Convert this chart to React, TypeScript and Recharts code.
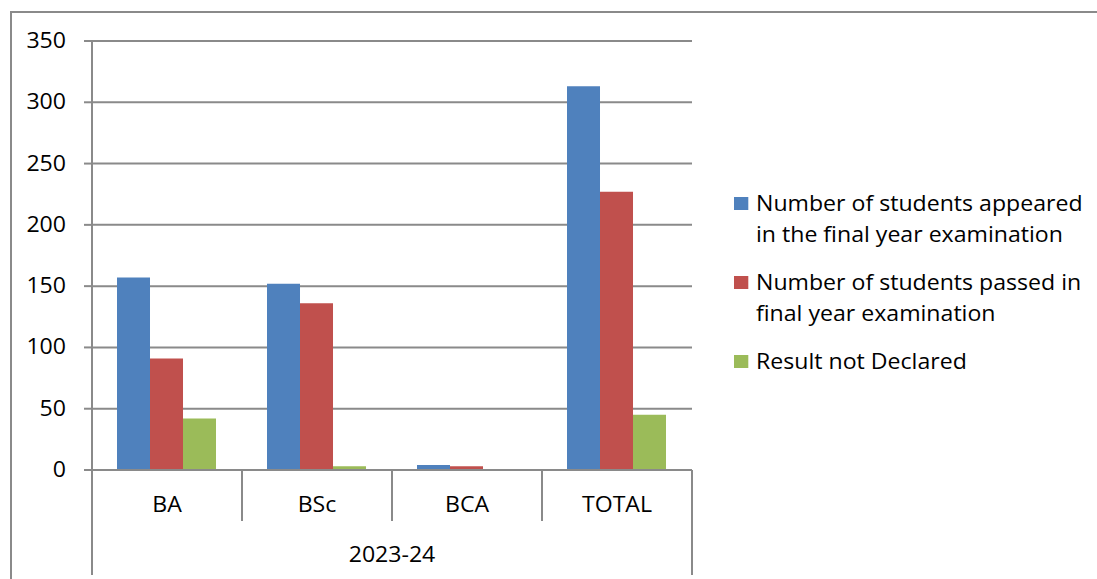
import { BarChart, Bar, XAxis, YAxis, CartesianGrid, Legend } from 'recharts';

const categories = ['BA', 'BSc', 'BCA', 'TOTAL'];
const appeared = [157, 152, 4, 313];
const passed = [91, 136, 3, 227];
const notDeclared = [42, 3, 0, 45];
const yearLabel = '2023-24';
const yTicks = [0, 50, 100, 150, 200, 250, 300, 350];

// legend labels, split the way the source wraps them
const legendLines = [
  ['Number of students appeared', 'in the final year examination'],
  ['Number of students passed in', 'final year examination'],
  ['Result not Declared'],
];
const seriesNames = legendLines.map((l) => l.join(' '));
const COLORS = ['#4F81BD', '#C0504D', '#9BBB59'];

const data = categories.map((category, i) => ({
  category,
  year: yearLabel,
  appeared: appeared[i],
  passed: passed[i],
  notDeclared: notDeclared[i],
}));

const FONT = '"Open Sans", Lato, sans-serif';
const GRID = '#8a8a8a';
// the source picture is stretched a little sideways
const STRETCH = 1.1;

const Label = ({ x, y, anchor, children }: any) => (
  <text
    transform={`translate(${x},${y}) scale(${STRETCH},1)`}
    textAnchor={anchor}
    fontSize={21}
    fontFamily={FONT}
    fill="#000"
  >
    {children}
  </text>
);

const CategoryTick = (props: any) => {
  const { x, y, payload, index, visibleTicksCount } = props;
  const half = payload.offset;
  return (
    <g>
      <line x1={x - half} y1={y} x2={x - half} y2={y + 51} stroke={GRID} strokeWidth={2} />
      {index === visibleTicksCount - 1 && (
        <line x1={x + half} y1={y} x2={x + half} y2={y + 51} stroke={GRID} strokeWidth={2} />
      )}
      <Label x={x} y={y + 42} anchor="middle">{payload.value}</Label>
    </g>
  );
};

const YearTick = (props: any) => {
  const { x, y, payload } = props;
  const half = payload.offset;
  return (
    <g>
      <line x1={x - half} y1={y} x2={x - half} y2={y + 54} stroke={GRID} strokeWidth={2} />
      <line x1={x + half} y1={y} x2={x + half} y2={y + 54} stroke={GRID} strokeWidth={2} />
      <Label x={x} y={y + 41} anchor="middle">{payload.value}</Label>
    </g>
  );
};

const ValueTick = (props: any) => {
  const { x, y, payload } = props;
  return <Label x={x} y={y + 7} anchor="end">{payload.value}</Label>;
};

const LegendContent = () => (
  <div
    style={{
      fontFamily: FONT,
      fontSize: 21,
      color: '#000',
      transform: `scaleX(${STRETCH})`,
      transformOrigin: 'left top',
    }}
  >
    {legendLines.map((lines, i) => (
      <div key={i} style={{ display: 'flex', alignItems: 'flex-start', marginBottom: 17 }}>
        <div style={{ width: 13, height: 13, background: COLORS[i], marginTop: 9, marginRight: 7, flex: 'none' }} />
        <div style={{ lineHeight: '31px', whiteSpace: 'nowrap' }}>
          {lines.map((t) => (
            <div key={t}>{t}</div>
          ))}
        </div>
      </div>
    ))}
  </div>
);

export default function App() {
  return (
    <div style={{ position: 'absolute', left: 0, top: 0, width: 1097, height: 579, overflow: 'hidden', background: '#fff' }}>
      <div
        style={{
          position: 'absolute',
          left: 10,
          top: 11,
          width: 1200,
          height: 700,
          border: `2px solid ${GRID}`,
          boxSizing: 'border-box',
        }}
      />
      <BarChart
        width={1097}
        height={579}
        data={data}
        margin={{ top: 41, right: 405, bottom: 4, left: 0 }}
        barGap={0}
        barCategoryGap="16.67%"
        style={{ position: 'absolute', left: 0, top: 0 }}
      >
        <CartesianGrid vertical={false} stroke={GRID} strokeWidth={2} />
        <XAxis
          dataKey="category"
          height={51}
          tickSize={0}
          tickMargin={0}
          axisLine={{ stroke: GRID, strokeWidth: 2 }}
          tick={<CategoryTick />}
          interval={0}
        />
        <XAxis
          xAxisId="year"
          dataKey="year"
          allowDuplicatedCategory={false}
          height={54}
          tickSize={0}
          tickMargin={0}
          axisLine={false}
          tick={<YearTick />}
        />
        <YAxis
          width={92}
          domain={[0, 350]}
          ticks={yTicks}
          interval={0}
          tickSize={8}
          tickMargin={18}
          axisLine={{ stroke: GRID, strokeWidth: 2 }}
          tickLine={{ stroke: GRID, strokeWidth: 2 }}
          tick={<ValueTick />}
        />
        <Legend
          layout="vertical"
          align="center"
          verticalAlign="middle"
          content={<LegendContent />}
          wrapperStyle={{ left: 734, top: 188, width: 360 }}
        />
        <Bar dataKey="appeared" name={seriesNames[0]} fill={COLORS[0]} isAnimationActive={false} />
        <Bar dataKey="passed" name={seriesNames[1]} fill={COLORS[1]} isAnimationActive={false} />
        <Bar dataKey="notDeclared" name={seriesNames[2]} fill={COLORS[2]} isAnimationActive={false} />
      </BarChart>
    </div>
  );
}
